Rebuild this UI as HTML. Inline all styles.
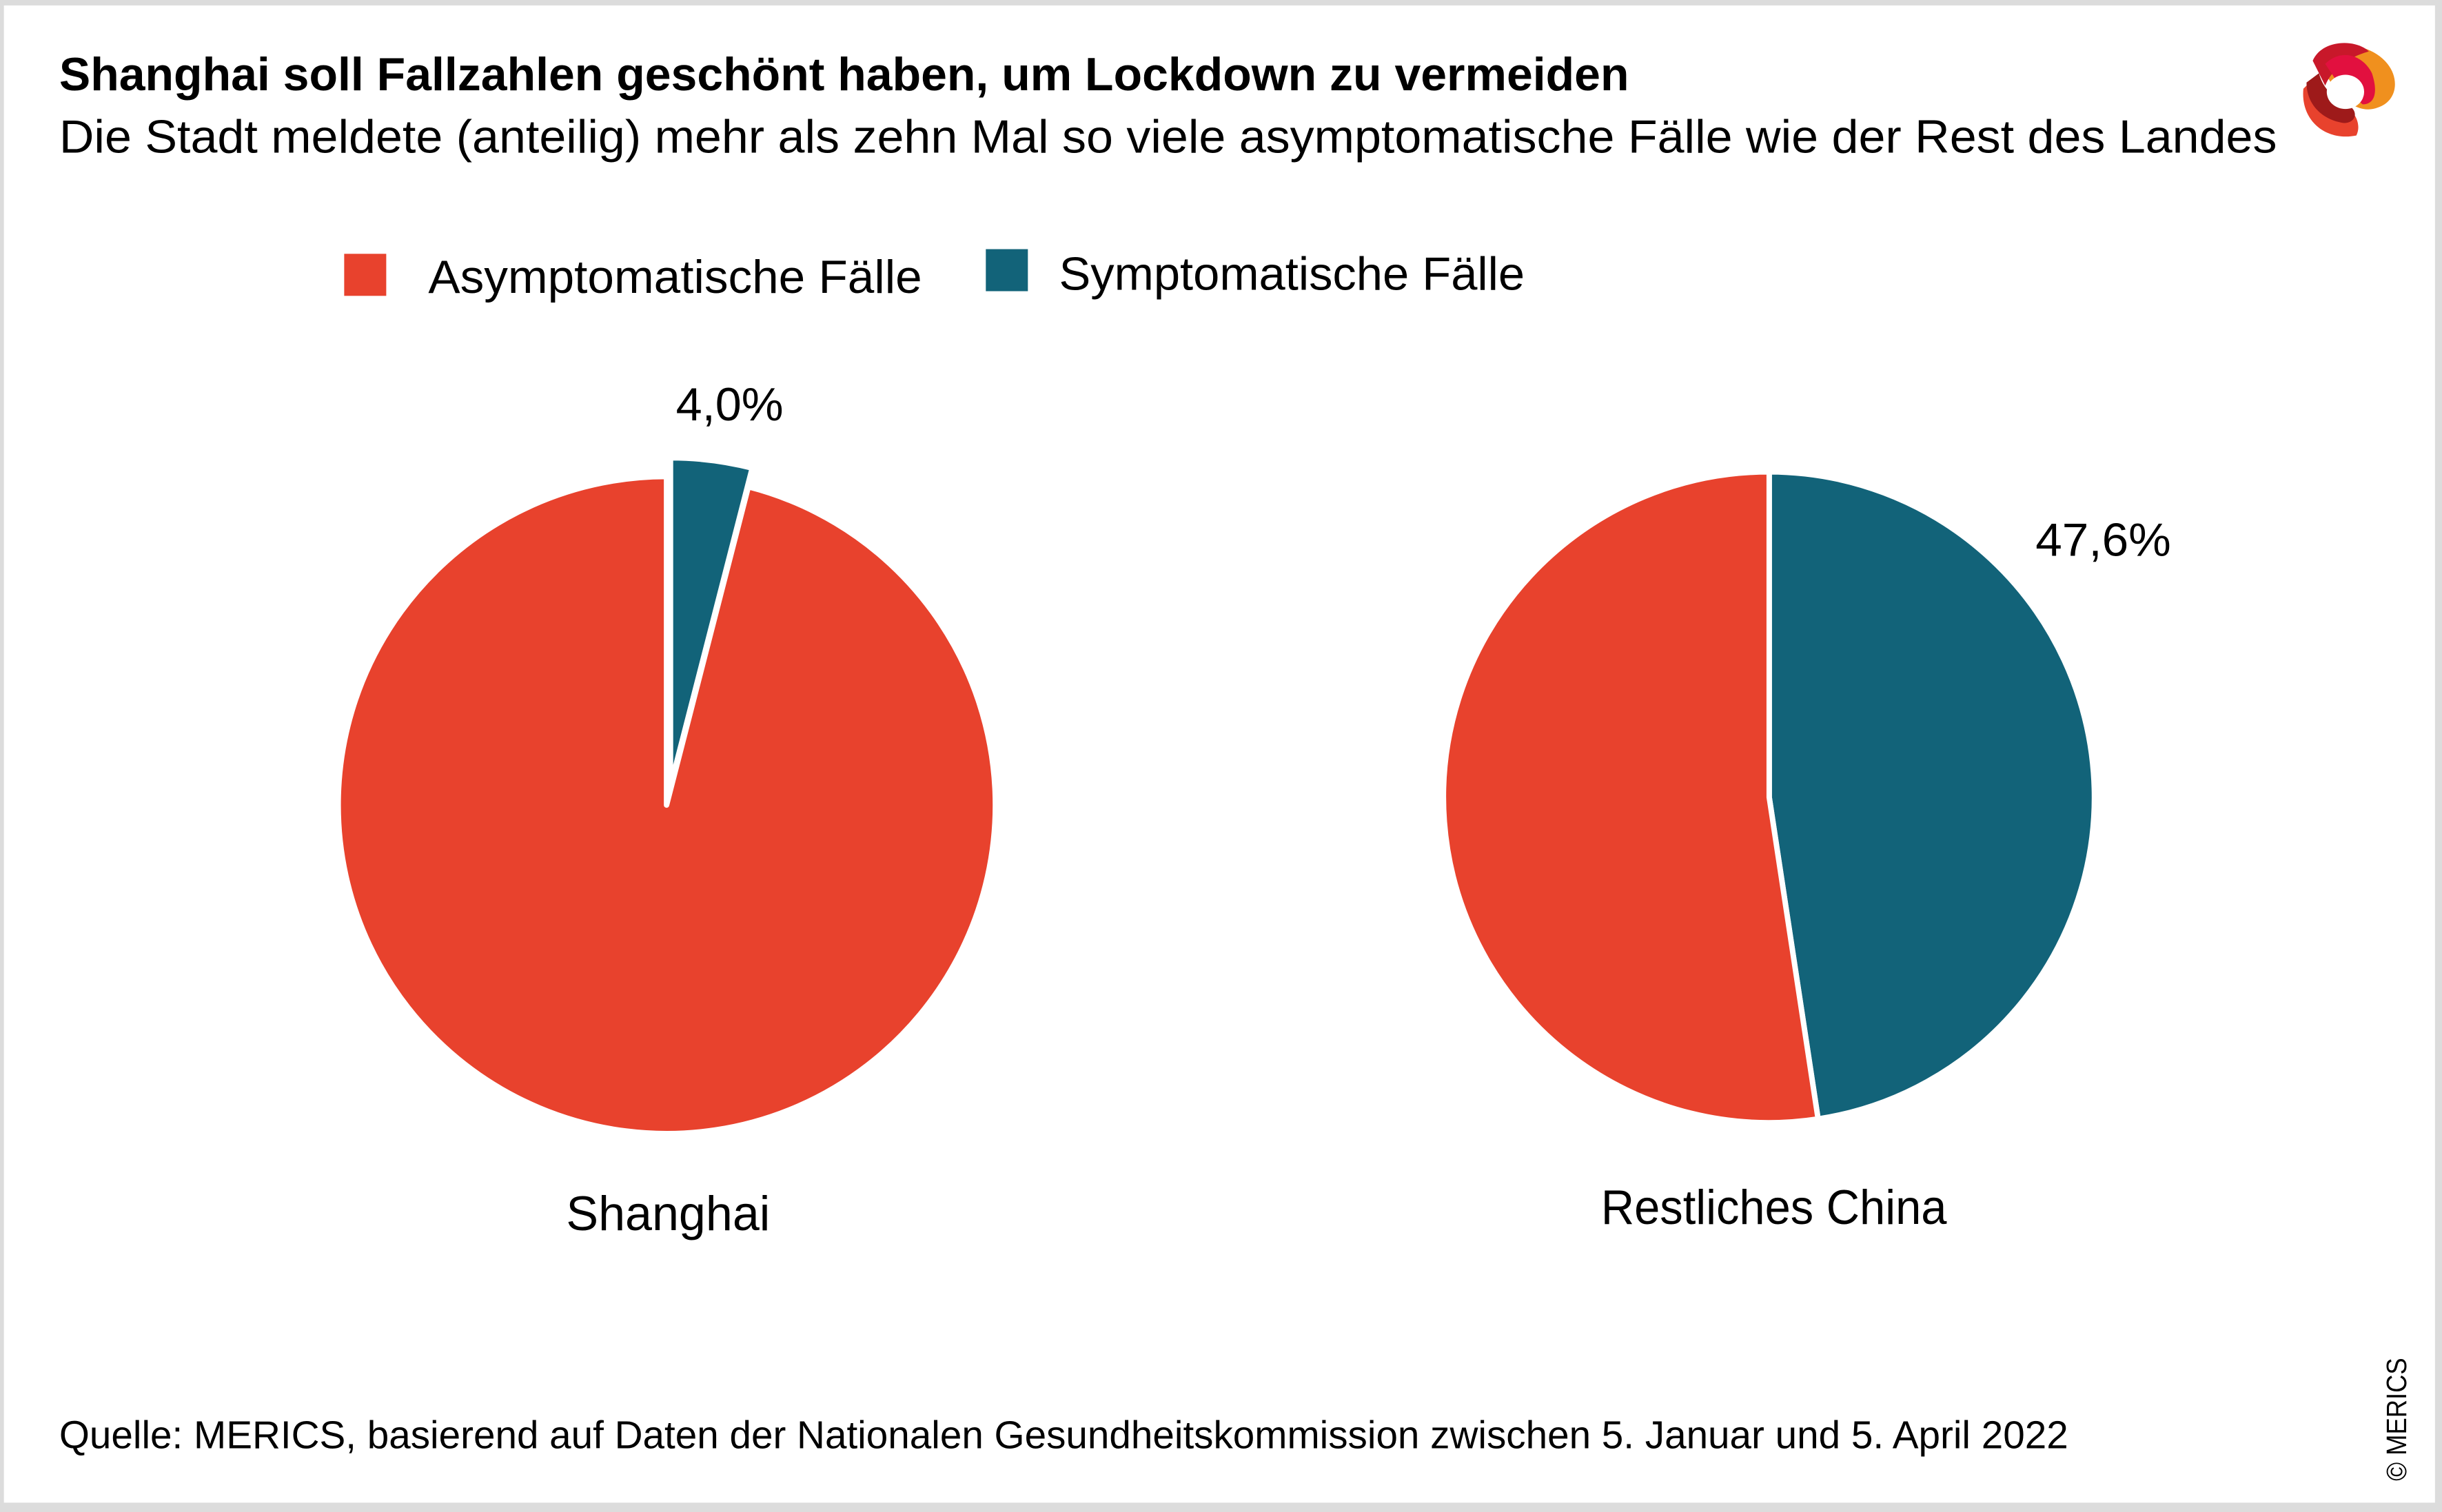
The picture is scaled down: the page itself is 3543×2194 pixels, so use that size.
<!DOCTYPE html>
<html><head><meta charset="utf-8"><style>
html,body{margin:0;padding:0;background:#dcdcdc;}
svg{display:block;}
text{font-family:"Liberation Sans Narrow","Liberation Sans",sans-serif;fill:#000;}
</style></head><body>
<svg width="3543" height="2194" viewBox="0 0 1568 971" preserveAspectRatio="none" xmlns="http://www.w3.org/2000/svg">
<rect x="0" y="0" width="1568" height="971" fill="#dcdcdc"/>
<rect x="2.5" y="3.5" width="1561" height="961.5" fill="#fff"/>
<text x="38" y="58" font-size="30" font-weight="bold" textLength="1008" lengthAdjust="spacingAndGlyphs">Shanghai soll Fallzahlen geschönt haben, um Lockdown zu vermeiden</text>
<text x="38" y="98" font-size="30" textLength="1424" lengthAdjust="spacingAndGlyphs">Die Stadt meldete (anteilig) mehr als zehn Mal so viele asymptomatische Fälle wie der Rest des Landes</text>
<!-- logo -->
<g transform="translate(1507,59)">
<path d="M-20,-22 C-10,-34 15,-32 26,-18 C34,-8 32,6 20,10 C10,14 0,8 -8,-2 Z" fill="#f0901e"/>
<path d="M-22,-20 C-16,-34 6,-34 14,-26 C0,-22 -10,-14 -14,-4 Z" fill="#c8182a"/>
<path d="M-14,-18 C-4,-28 10,-24 16,-12 C20,0 18,8 10,8 L-6,-6 Z" fill="#e2103f"/>
<path d="M-28,-2 C-30,18 -14,32 6,28 C10,20 4,10 -6,6 C-14,2 -16,-6 -22,-8 Z" fill="#e8422d"/>
<path d="M-26,-6 C-26,8 -16,18 -2,20 C6,20 8,12 0,8 C-10,4 -16,-4 -18,-12 Z" fill="#9e1a1a"/>
<ellipse cx="-1" cy="0" rx="12" ry="11" fill="#fff"/>
</g>
<!-- legend -->
<rect x="221" y="163" width="27" height="27" fill="#e8422d"/>
<text x="275" y="188" font-size="30" textLength="317" lengthAdjust="spacingAndGlyphs">Asymptomatische Fälle</text>
<rect x="633" y="160" width="27" height="27" fill="#126379"/>
<text x="680" y="186" font-size="30" textLength="299" lengthAdjust="spacingAndGlyphs">Symptomatische Fälle</text>
<!-- pie 1 -->
<path d="M428,517 L428,306 A211,211 0 1 0 480.5,312.6 Z" fill="#e8422d" stroke="#fff" stroke-width="3.5" stroke-linejoin="round"/>
<path d="M430.5,505 L430.5,294 A211,211 0 0 1 483,300.6 Z" fill="#126379" stroke="#fff" stroke-width="3.5" stroke-linejoin="round"/>
<text x="434" y="270" font-size="30" textLength="69" lengthAdjust="spacingAndGlyphs">4,0%</text>
<text x="429" y="790" font-size="31" text-anchor="middle">Shanghai</text>
<!-- pie 2 -->
<path d="M1136,512 L1136,303 A209,209 0 0 1 1167.4,718.6 Z" fill="#126379" stroke="#fff" stroke-width="3.5" stroke-linejoin="round"/>
<path d="M1136,512 L1167.4,718.6 A209,209 0 1 1 1136,303 Z" fill="#e8422d" stroke="#fff" stroke-width="3.5" stroke-linejoin="round"/>
<text x="1307" y="357" font-size="30" textLength="87" lengthAdjust="spacingAndGlyphs">47,6%</text>
<text x="1139" y="786" font-size="31" text-anchor="middle" textLength="222" lengthAdjust="spacingAndGlyphs">Restliches China</text>
<!-- source -->
<text x="38" y="930" font-size="25" textLength="1290" lengthAdjust="spacingAndGlyphs">Quelle: MERICS, basierend auf Daten der Nationalen Gesundheitskommission zwischen 5. Januar und 5. April 2022</text>
<text transform="translate(1545,951) rotate(-90)" font-size="18" textLength="79" lengthAdjust="spacingAndGlyphs">© MERICS</text>
</svg>
</body></html>
